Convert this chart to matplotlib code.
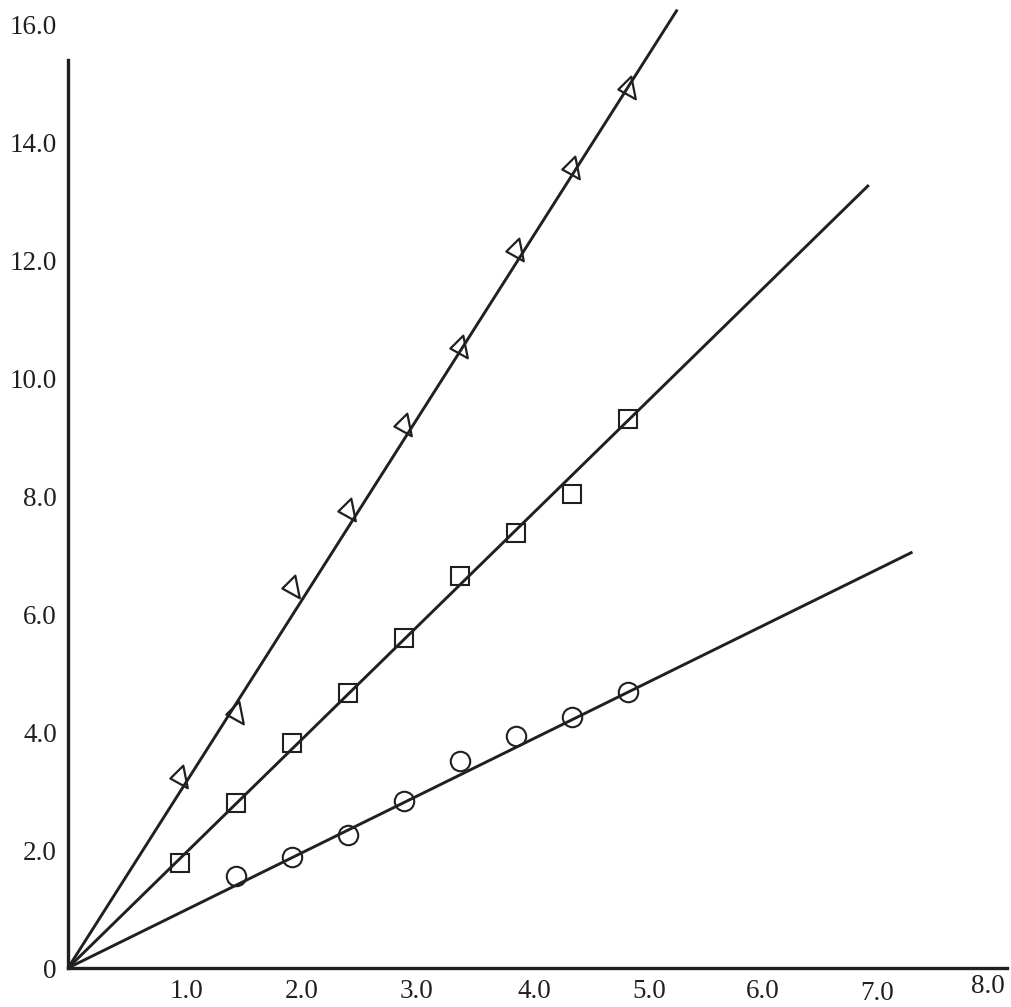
import matplotlib.pyplot as plt
from matplotlib.path import Path

plt.rcParams['font.family'] = ['Liberation Serif', 'DejaVu Serif']

INK = '#231f20'

x_tri = [1.0, 1.5, 2.0, 2.5, 3.0, 3.5, 4.0, 4.5, 5.0]
y_tri = [3.24, 4.32, 6.46, 7.76, 9.20, 10.53, 12.17, 13.56, 14.92]

x_sq = [1.0, 1.5, 2.0, 2.5, 3.0, 3.5, 4.0, 4.5, 5.0]
y_sq = [1.78, 2.80, 3.81, 4.66, 5.59, 6.64, 7.37, 8.03, 9.31]

x_circ = [1.5, 2.0, 2.5, 3.0, 3.5, 4.0, 4.5, 5.0]
y_circ = [1.56, 1.88, 2.25, 2.83, 3.51, 3.93, 4.25, 4.68]

# straight fit lines through the origin: slope and where each line stops
fit_slope = [2.986, 1.856, 0.935]
fit_xend = [5.44, 7.15, 7.54]

y_ticks = [0, 2, 4, 6, 8, 10, 12, 14, 16]
y_ticklabels = ['0', '2.0', '4.0', '6.0', '8.0', '10.0', '12.0', '14.0', '16.0']
x_ticklabels = ['1.0', '2.0', '3.0', '4.0', '5.0', '6.0', '7.0', '8.0']
# where the x labels actually sit in the original (they are a bit off the grid)
x_label_pos = [1.06, 2.09, 3.11, 4.16, 5.19, 6.20, 7.22, 8.21]
x_label_drop = [0.51, 0.51, 0.51, 0.51, 0.51, 0.51, 0.54, 0.42]

# tilted open triangle used in the original
tri = Path([(2.7, 11.3), (-9.7, -1.0), (7.0, -10.3), (2.7, 11.3)], closed=True)

fig = plt.figure(figsize=(10.11, 10.07), dpi=100)
ax = fig.add_axes([68 / 1011, 39 / 1007, 8.5 * 112 / 1011, 16.3 * 59 / 1007])
ax.set_xlim(0, 8.5)
ax.set_ylim(0, 16.3)

for k in range(3):
    ax.plot([0, fit_xend[k]], [0, fit_slope[k] * fit_xend[k]], color=INK,
            lw=2.1, solid_capstyle='butt', clip_on=False)

ax.plot(x_tri, y_tri, ls='none', marker=tri, ms=17, mfc='none', mec=INK, mew=1.6)
ax.plot(x_sq, y_sq, ls='none', marker='s', ms=13, mfc='none', mec=INK, mew=1.5)
ax.plot(x_circ, y_circ, ls='none', marker='o', ms=14, mfc='none', mec=INK, mew=1.5)

for s in ['top', 'right']:
    ax.spines[s].set_visible(False)
ax.spines['left'].set_bounds(0, 15.39)
ax.spines['bottom'].set_bounds(0, 8.38)
for s in ['left', 'bottom']:
    ax.spines[s].set_linewidth(2.4)
    ax.spines[s].set_color(INK)

ax.set_yticks(y_ticks)
ax.set_yticklabels(y_ticklabels)
ax.set_xticks([])
ax.tick_params(axis='y', length=0, pad=8, labelsize=19.5, labelcolor=INK)

for xp, lab, d in zip(x_label_pos, x_ticklabels, x_label_drop):
    ax.text(xp, -d, lab, ha='center', va='baseline', fontsize=19.5, color=INK,
            clip_on=False)

fig.savefig('out.png', dpi=100)
